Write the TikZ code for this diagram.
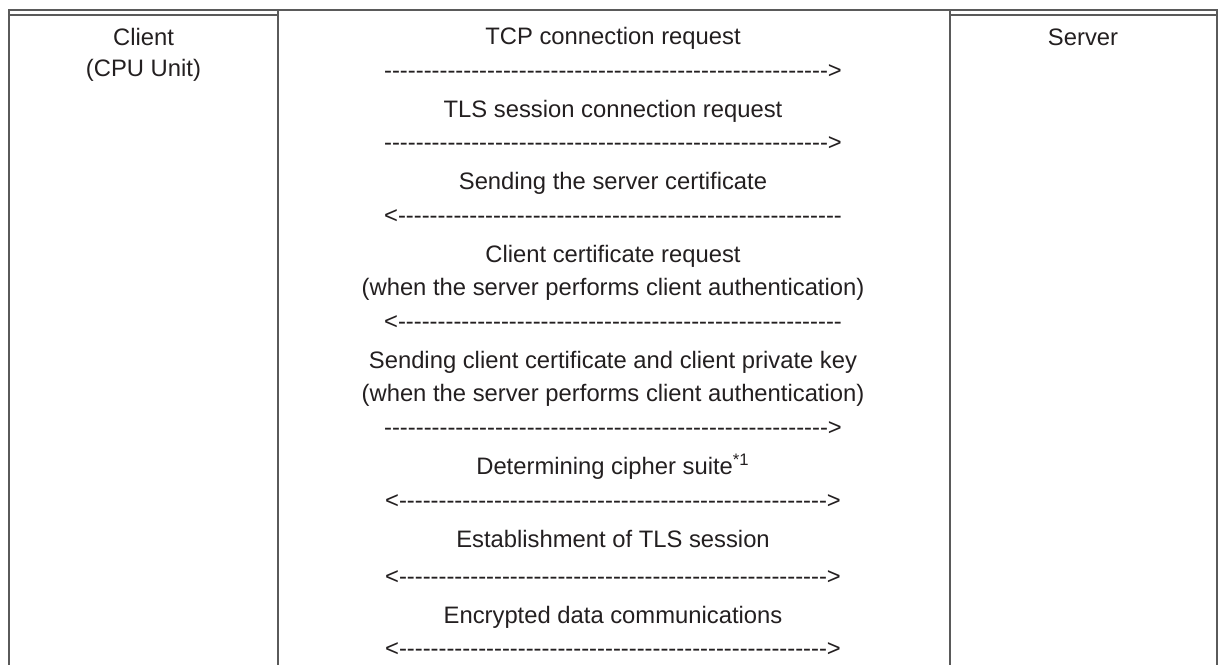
\documentclass[tikz,border=0pt]{standalone}
\usepackage{fontspec}
\newfontfamily\lsans{Liberation Sans}
\definecolor{textgray}{HTML}{231F20}
\definecolor{linegray}{HTML}{5A5A5A}
\newcommand\dashrun[1]{\ifnum#1>0 -\expandafter\dashrun\expandafter{\the\numexpr#1-1\relax}\fi}
\begin{document}
\begin{tikzpicture}[x=0.5pt,y=-0.5pt,
  txt/.style={anchor=base, inner sep=0pt, text=textgray, font=\lsans\fontsize{11.9}{14}\selectfont},
  rule/.style={draw=linegray, line width=1pt, line cap=rect}]
\useasboundingbox (0,0) rectangle (1219,664);
% table rules
\draw[rule] (9,10) -- (1217,10);
\draw[rule] (9,14.5) -- (278,14.5);
\draw[rule] (950,14.5) -- (1217,14.5);
\draw[rule] (9,10) -- (9,670);
\draw[rule] (278,10) -- (278,670);
\draw[rule] (950,10) -- (950,670);
\draw[rule] (1217,10) -- (1217,670);
% side columns
\node[txt] (client) at (143.5,45) {Client};
\node[txt] (cpu) at (143.5,76) {(CPU Unit)};
\node[txt] (server) at (1083,45) {Server};
% middle column
\def\mx{613}
\node[txt] (t1) at (\mx,44) {TCP connection request};
\node[txt] (d1) at (\mx,78) {\dashrun{56}>};
\node[txt] (t2) at (\mx,117) {TLS session connection request};
\node[txt] (d2) at (\mx,150) {\dashrun{56}>};
\node[txt] (t3) at (\mx,189) {Sending the server certificate};
\node[txt] (d3) at (\mx,223) {<\dashrun{56}};
\node[txt] (t4a) at (\mx,262) {Client certificate request};
\node[txt] (t4b) at (\mx,295) {(when the server performs client authentication)};
\node[txt] (d4) at (\mx,329) {<\dashrun{56}};
\node[txt] (t5a) at (\mx,368) {Sending client certificate and client private key};
\node[txt] (t5b) at (\mx,401) {(when the server performs client authentication)};
\node[txt] (d5) at (\mx,435) {\dashrun{56}>};
\node[txt] (t6) at (\mx,474) {Determining cipher suite\textsuperscript{*1}};
\node[txt] (d6) at (\mx,508) {<\dashrun{54}>};
\node[txt] (t7) at (\mx,547) {Establishment of TLS session};
\node[txt] (d7) at (\mx,584) {<\dashrun{54}>};
\node[txt] (t8) at (\mx,623) {Encrypted data communications};
\node[txt] (d8) at (\mx,656) {<\dashrun{54}>};
\end{tikzpicture}
\end{document}
